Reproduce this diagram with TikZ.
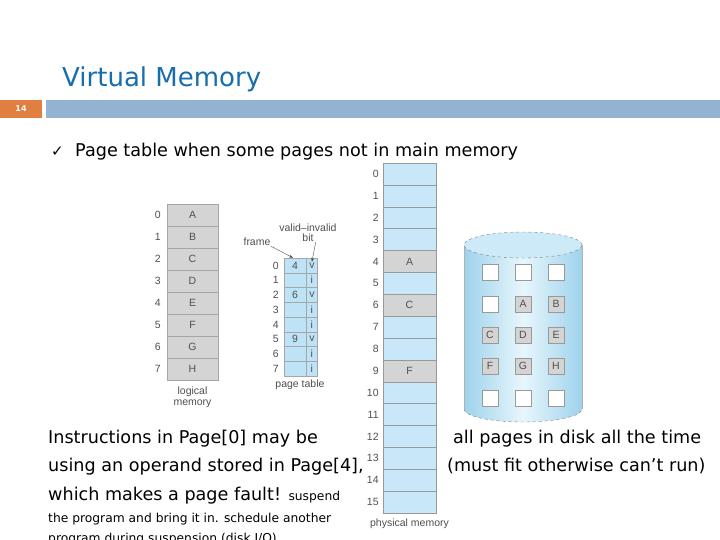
\documentclass[tikz,border=0pt]{standalone}
\usepackage{fontspec}
\setmainfont{DejaVu Sans}
\newfontfamily\figfont{Liberation Sans}
\usetikzlibrary{positioning,arrows.meta}

\definecolor{titleblue}{RGB}{24,110,172}
\definecolor{barblue}{RGB}{148,179,210}
\definecolor{barorange}{RGB}{224,127,64}
\definecolor{pagegray}{RGB}{212,212,212}
\definecolor{tableblue}{RGB}{190,226,246}
\definecolor{physblue}{RGB}{200,232,250}
\definecolor{diskblue}{RGB}{158,210,236}
\definecolor{disklight}{RGB}{232,246,252}
\definecolor{disktop}{RGB}{204,234,248}
\definecolor{labgray}{RGB}{80,80,80}

\tikzset{
  figtext/.style={font=\figfont\fontsize{10.5}{11.5}\selectfont, text=labgray},
  rowlab/.style={figtext, inner sep=0pt},
  lmcell/.style={figtext, draw=gray!70, fill=pagegray, minimum width=51pt, minimum height=22pt, inner sep=0pt},
  ptcell/.style={figtext, draw=gray!70, fill=tableblue, minimum height=14.75pt, inner sep=0pt},
  pmcell/.style={figtext, draw=gray!80, fill=physblue, minimum width=53pt, minimum height=21.875pt, inner sep=0pt},
  disksq/.style={figtext, draw=gray!80, fill=white, minimum size=16pt, inner sep=0pt},
  ptarrow/.style={-{Stealth[length=4pt,width=3pt]}, labgray},
  body/.style={font=\fontsize{17.6}{20}\selectfont, inner sep=0pt, anchor=base west},
  smalltext/.style={font=\fontsize{12.3}{14}\selectfont, inner sep=0pt, anchor=base west},
}

\begin{document}
\begin{tikzpicture}[x=1pt,y=-1pt]
  \useasboundingbox (0,0) rectangle (720,540);
  \clip (0,0) rectangle (720,540);
  \fill[white] (0,0) rectangle (720,540);

  % title and bar
  \node[anchor=base west, inner sep=0pt, text=titleblue, font=\fontsize{26}{30}\selectfont] (title) at (62,87) {Virtual Memory};
  \fill[barorange] (0,100) rectangle (42,118);
  \fill[barblue] (46,100) rectangle (720,118);
  \node[text=white, font=\fontsize{8}{8}\selectfont\bfseries] (slideno) at (21,109) {14};

  \node[anchor=base west, inner sep=0pt, font=\fontsize{15}{15}\selectfont] (tick) at (51,157) {✓};
  \node[body] (head) at (75,157) {Page table when some pages not in main memory};

  % logical memory
  \foreach \l [count=\i from 0] in {A,B,C,D,E,F,G,H} {
    \node[lmcell] (lm\i) at (192.5, 215+22*\i) {\l};
    \node[rowlab, left=6pt of lm\i] {\i};
  }
  \node[figtext, align=center, inner sep=0pt, below=6pt of lm7] (lmlab) {logical\\memory};

  % page table
  \foreach \f/\b [count=\i from 0] in {4/v,{}/i,6/v,{}/i,{}/i,9/v,{}/i,{}/i} {
    \node[ptcell, minimum width=22pt] (ptf\i) at (295, 265.4+14.75*\i) {\f};
    \node[ptcell, minimum width=11pt, right=0pt of ptf\i] (ptb\i) {\b};
    \node[rowlab, left=5pt of ptf\i] {\i};
  }
  \node[figtext, inner sep=0pt] (ptlab) at (300,385) {page table};
  \node[figtext, inner sep=0pt] (framelab) at (257,242) {frame};
  \node[figtext, inner sep=0pt] (vilab) at (308,228) {valid–invalid};
  \node[figtext, inner sep=0pt, below=2pt of vilab] (bitlab) {bit};
  \draw[ptarrow] (framelab.south east) -- ([xshift=-2pt]ptf0.north);
  \draw[ptarrow] ([xshift=2pt]bitlab.south east) -- ([yshift=-4pt]ptb0.north);

  % physical memory
  \foreach \i in {0,...,15} {
    \node[pmcell] (pm\i) at (409.5, 174+21.875*\i) {};
    \node[rowlab, left=4pt of pm\i] {\i};
  }
  \foreach \i/\l in {4/A,6/C,9/F}
    \node[pmcell, fill=pagegray] at (pm\i) {\l};
  \node[figtext, inner sep=0pt, below=5pt of pm15] (pmlab) {physical memory};

  % disk
  \shade[left color=diskblue, right color=diskblue, middle color=disklight]
    (464,245) -- (464,409) arc[start angle=180, end angle=360, x radius=59pt, y radius=13pt] -- (582,245) -- cycle;
  \draw[gray!60] (464,245) -- (464,409);
  \draw[gray!60] (582,245) -- (582,409);
  \draw[gray, dashed] (464,409) arc[start angle=180, end angle=360, x radius=59pt, y radius=13pt];
  \draw[gray, dashed, fill=disktop] (523,245) ellipse[x radius=59pt, y radius=13pt];
  \foreach \r/\y in {0/272,4/398}
    \foreach \c/\x in {0/490,1/523,2/556}
      \node[disksq] (ds\r\c) at (\x,\y) {};
  \node[disksq] (ds10) at (490,304) {};
  \foreach \l/\x/\y in {A/523/304,B/556/304,C/490/335,D/523/335,E/556/335,F/490/366,G/523/366,H/556/366}
    \node[disksq, fill=pagegray] (ds\l) at (\x,\y) {\l};

  % text
  \node[body] (instr1) at (48,443) {Instructions in Page[0] may be};
  \node[body] (instr2) at (48,471) {using an operand stored in Page[4],};
  \node[body] (instr3) at (48,500) {which makes a page fault! {\fontsize{12.3}{14}\selectfont suspend}};
  \node[smalltext] (instr4) at (48,522) {the program and bring it in. schedule another};
  \node[smalltext] (instr5) at (48,542) {program during suspension (disk I/O)};
  \node[body] (disk1) at (453,443) {all pages in disk all the time};
  \node[body] (disk2) at (447,471) {(must fit otherwise can’t run)};
\end{tikzpicture}
\end{document}
